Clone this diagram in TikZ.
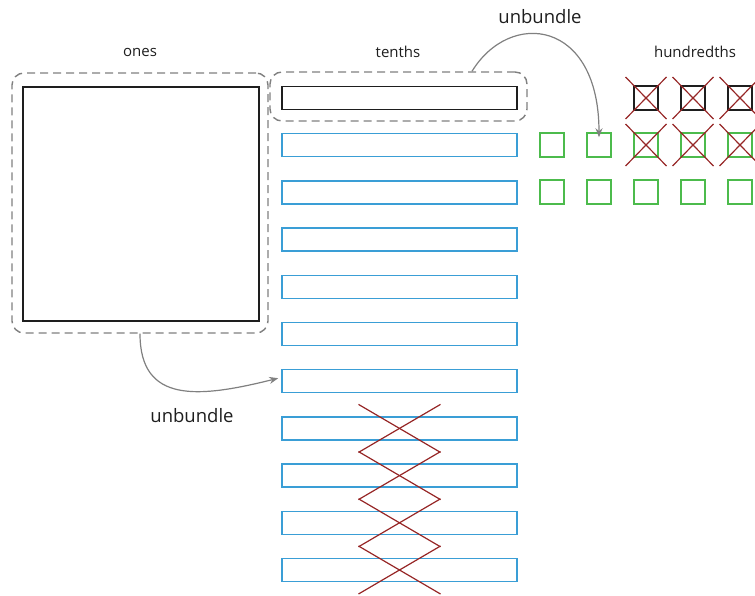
\documentclass[tikz,border=0pt]{standalone}
\usepackage{fontspec}
\setmainfont{Open Sans}
\usetikzlibrary{arrows.meta}

\definecolor{tenblue}{RGB}{58,158,214}
\definecolor{hungreen}{RGB}{76,187,76}
\definecolor{crossred}{RGB}{150,38,38}
\definecolor{groupgray}{RGB}{128,128,128}
\definecolor{inkblack}{RGB}{30,30,30}

\tikzset{
  groupbox/.style={draw=groupgray, line width=1.4pt, dash pattern=on 8pt off 5pt,
    rounded corners=12pt, inner sep=0pt},
  onesblock/.style={draw=inkblack, line width=1.5pt, inner sep=0pt,
    minimum width=236pt, minimum height=234pt},
  tenthbar/.style={draw=tenblue, line width=1.5pt, inner sep=0pt,
    minimum width=235pt, minimum height=23pt},
  tenthblack/.style={tenthbar, draw=inkblack},
  hundsq/.style={draw=hungreen, line width=1.5pt, inner sep=0pt,
    minimum width=24pt, minimum height=24pt},
  hundblack/.style={hundsq, draw=inkblack},
  crossline/.style={draw=crossred, line width=1.2pt},
  bundlearrow/.style={draw=groupgray, line width=1.2pt,
    -{Stealth[length=9pt,width=7pt]}},
  smalllabel/.style={font=\fontsize{15}{18}\selectfont, text=inkblack},
  biglabel/.style={font=\fontsize{18.5}{22}\selectfont, text=inkblack},
}

\begin{document}
\begin{tikzpicture}[x=1pt,y=-1pt]
\useasboundingbox (0,0) rectangle (755,596);

% column headings
\node[smalllabel] (lones) at (140,52) {ones};
\node[smalllabel] (ltenths) at (398,52) {tenths};
\node[smalllabel] (lhund) at (695,52) {hundredths};

% the one whole
\node[onesblock] (one) at (141,204) {};
\node[groupbox, minimum width=256pt, minimum height=260pt] (onesbox) at (140,203) {};

% tenths: one bundled bar and ten loose bars
\node[tenthblack] (t0) at (399.5,98) {};
\node[groupbox, minimum width=257pt, minimum height=49pt] (tenbox) at (398.5,96.5) {};
\foreach \k in {1,...,10}{
  \node[tenthbar] (t\k) at (399.5,{98+47.2*\k}) {};
}

% tenths crossed out
\foreach \k in {7,...,10}{
  \draw[crossline] ([xshift=-41pt,yshift=-24pt]t\k.center) -- ([xshift=41pt,yshift=24pt]t\k.center);
  \draw[crossline] ([xshift=41pt,yshift=-24pt]t\k.center) -- ([xshift=-41pt,yshift=24pt]t\k.center);
}

% hundredths
\foreach \c in {2,3,4}{
  \node[hundblack] (h0\c) at ({552+47*\c},98) {};
}
\foreach \r in {1,2}{
  \foreach \c in {0,...,4}{
    \node[hundsq] (h\r\c) at ({552+47*\c},{98+47*\r}) {};
  }
}

% hundredths crossed out
\foreach \n in {h02,h03,h04,h12,h13,h14}{
  \draw[crossline] ([xshift=-20.5pt,yshift=-21pt]\n.center) -- ([xshift=20.5pt,yshift=21pt]\n.center);
  \draw[crossline] ([xshift=20.5pt,yshift=-21pt]\n.center) -- ([xshift=-20.5pt,yshift=21pt]\n.center);
}

% unbundling arrows
\draw[bundlearrow] ([xshift=73.5pt]tenbox.north) .. controls +(38,-62) and +(0,-118) .. ([yshift=-5pt]h11.north);
\node[biglabel] (ub1) at (540,17) {unbundle};

\draw[bundlearrow] (onesbox.south) .. controls +(0,70) and +(-80,20) .. ([xshift=-3pt,yshift=3pt]t6.west);
\node[biglabel] (ub2) at (192,416) {unbundle};
\end{tikzpicture}
\end{document}
